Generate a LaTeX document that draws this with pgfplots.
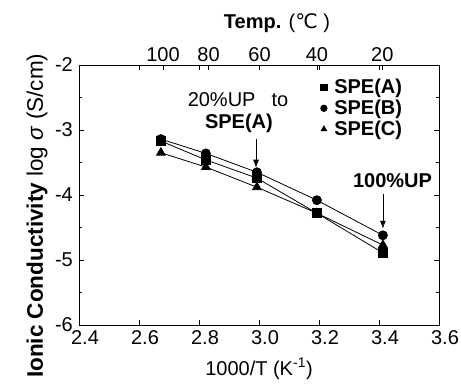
\documentclass[border=0pt]{standalone}
\usepackage{fontspec}
\setmainfont{Liberation Sans}
\newfontfamily\dejavu{DejaVu Sans}
\usepackage{pgfplots}
\pgfplotsset{compat=1.18}
\usetikzlibrary{arrows.meta}
\begin{document}
\begin{tikzpicture}
\pgfplotsset{
  common/.style={
    scale only axis, width=360pt, height=260pt,
    xmin=2.4, xmax=3.6, ymin=-6, ymax=-2,
    /pgf/number format/assume math mode=true,
    tick label style={font=\fontsize{20}{22}\selectfont},
    label style={font=\fontsize{20}{22}\selectfont},
    axis line style={line width=0.9pt},
    tick style={line width=0.7pt, black},
    major tick length=5pt, minor tick length=3pt,
  }
}
\begin{axis}[common, name=main,
  xtick={2.4,2.6,...,3.6},
  xticklabel style={/pgf/number format/.cd, fixed, fixed zerofill, precision=1, /tikz/.cd, xshift=6pt, yshift=-3pt, inner sep=2pt},
  ytick={-6,-5,-4,-3,-2},
  minor ytick={-5.5,-4.5,-3.5,-2.5},
  yticklabel style={inner sep=2pt, xshift=-4pt},
  xlabel={1000/T (K\textsuperscript{-1})},
  ylabel={\textbf{Ionic Conductivity} log \textit{σ} (S/cm)},
  xlabel style={yshift=-8pt},
  ylabel style={at={(ticklabel cs:0.42)}, font=\fontsize{22.5}{24}\selectfont, yshift=2pt},
  legend style={at={(axis cs:3.205,-2.20)}, anchor=north west, draw=none, fill=none,
     font=\bfseries\fontsize{20}{22}\selectfont, row sep=2.5pt, inner sep=0pt,
     nodes={inner sep=1.2pt}, /tikz/every odd column/.append style={column sep=6pt}},
  legend cell align=left,
  legend image code/.code={\draw[#1, only marks, mark size=3.2pt] plot coordinates {(0.2cm,0cm)};},
]
\addplot[black, line width=0.8pt, mark=square*, mark size=4.5pt] coordinates {
 (2.673,-3.17) (2.823,-3.46) (2.993,-3.74) (3.193,-4.28) (3.413,-4.89)};
\addlegendentry{SPE(A)}
\addplot[black, line width=0.8pt, mark=*, mark size=4.5pt] coordinates {
 (2.673,-3.14) (2.823,-3.36) (2.993,-3.65) (3.193,-4.08) (3.413,-4.62)};
\addlegendentry{SPE(B)}
\addplot[black, line width=0.8pt, mark=triangle*, mark size=5pt] coordinates {
 (2.673,-3.35) (2.823,-3.57) (2.993,-3.88) (3.193,-4.28) (3.413,-4.77)};
\addlegendentry{SPE(C)}
\node[font=\fontsize{20}{22}\selectfont] at (axis cs:2.93,-2.54) {20\%UP\hspace{0.8em}to};
\node[font=\bfseries\fontsize{20}{22}\selectfont] at (axis cs:2.933,-2.90) {SPE(A)};
\node[font=\bfseries\fontsize{20}{22}\selectfont] at (axis cs:3.445,-3.78) {100\%UP};
\draw[-{Latex[length=8pt,width=6pt]}, line width=0.8pt] (axis cs:2.99,-3.14) -- (axis cs:2.99,-3.58);
\draw[-{Latex[length=8pt,width=6pt]}, line width=0.8pt] (axis cs:3.413,-3.99) -- (axis cs:3.413,-4.52);
\end{axis}
\begin{axis}[common,
  axis x line*=top, axis y line=none,
  xtick={2.680,2.832,3.002,3.193,3.411},
  xticklabels={100,80,60,40,20},
  xlabel={\textbf{Temp.} ({\dejavu ℃} )},
  xlabel style={at={(rel axis cs:0.5,1)}, anchor=center, yshift=42pt, xshift=18pt},
]
\end{axis}
\pgfresetboundingbox
\path ([shift={(-79pt,-60pt)}]main.south west) rectangle ([shift={(22pt,65pt)}]main.north east);
\end{tikzpicture}
\end{document}
